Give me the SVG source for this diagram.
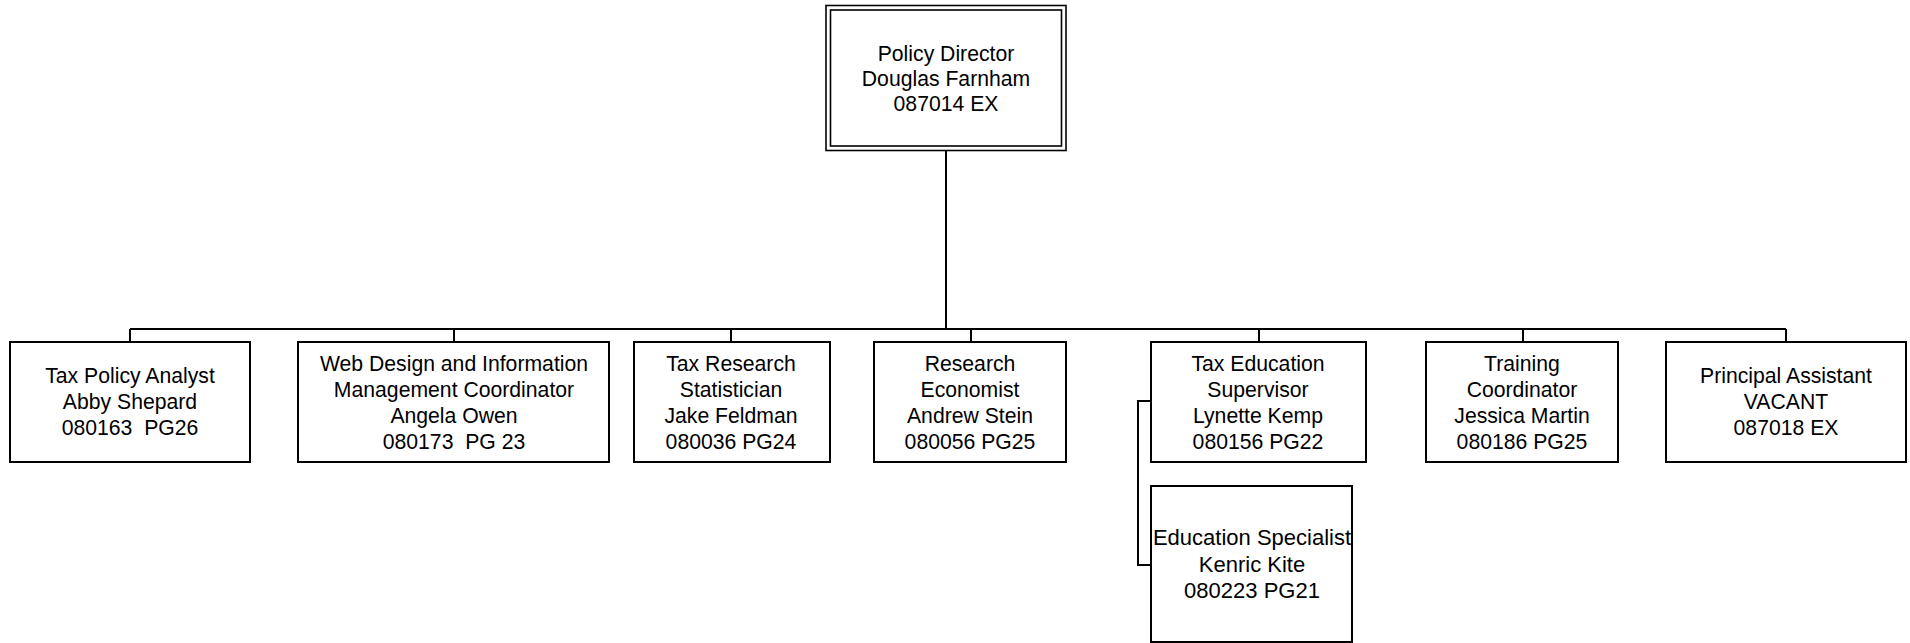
<svg xmlns="http://www.w3.org/2000/svg" width="1910" height="643" viewBox="0 0 1910 643">
<style>
.box{fill:#fff;stroke:#000;stroke-width:2}
.dbl{fill:none;stroke:#000;stroke-width:1.6}
.conn{fill:none;stroke:#000;stroke-width:2}
text{font-family:"Liberation Sans",Arial,sans-serif;font-size:21.2px;fill:#000;text-anchor:middle}
.big{font-size:22px}
</style>
<rect width="1910" height="643" fill="#fff"/>
<g id="connectors">
<path class="conn" d="M946 150V329M130 329H1786M130 329V342M454 329V342M731 329V342M971 329V342M1259 329V342M1523 329V342M1786 329V342"/>
<path class="conn" d="M1151 401H1138V565H1151"/>
</g>
<g id="n-director">
<rect class="dbl" x="826" y="5.5" width="240" height="145" fill="#fff"/>
<rect class="dbl" x="830.5" y="10" width="231" height="136"/>
<text x="946" y="61">Policy Director</text>
<text x="946" y="86">Douglas Farnham</text>
<text x="946" y="111">087014 EX</text>
</g>
<g id="n-taxpolicy">
<rect class="box" x="10" y="342" width="240" height="120"/>
<text x="130" y="383">Tax Policy Analyst</text>
<text x="130" y="409">Abby Shepard</text>
<text x="130" y="435" xml:space="preserve">080163  PG26</text>
</g>
<g id="n-webdesign">
<rect class="box" x="298" y="342" width="311" height="120"/>
<text x="454" y="371">Web Design and Information</text>
<text x="454" y="397">Management Coordinator</text>
<text x="454" y="423">Angela Owen</text>
<text x="454" y="449" xml:space="preserve">080173  PG 23</text>
</g>
<g id="n-taxresearch">
<rect class="box" x="634" y="342" width="196" height="120"/>
<text x="731" y="371">Tax Research</text>
<text x="731" y="397">Statistician</text>
<text x="731" y="423">Jake Feldman</text>
<text x="731" y="449">080036 PG24</text>
</g>
<g id="n-economist">
<rect class="box" x="874" y="342" width="192" height="120"/>
<text x="970" y="371">Research</text>
<text x="970" y="397">Economist</text>
<text x="970" y="423">Andrew Stein</text>
<text x="970" y="449">080056 PG25</text>
</g>
<g id="n-taxeducation">
<rect class="box" x="1151" y="342" width="215" height="120"/>
<text x="1258" y="371">Tax Education</text>
<text x="1258" y="397">Supervisor</text>
<text x="1258" y="423">Lynette Kemp</text>
<text x="1258" y="449">080156 PG22</text>
</g>
<g id="n-training">
<rect class="box" x="1426" y="342" width="192" height="120"/>
<text x="1522" y="371">Training</text>
<text x="1522" y="397">Coordinator</text>
<text x="1522" y="423">Jessica Martin</text>
<text x="1522" y="449">080186 PG25</text>
</g>
<g id="n-principal">
<rect class="box" x="1666" y="342" width="240" height="120"/>
<text x="1786" y="383">Principal Assistant</text>
<text x="1786" y="409">VACANT</text>
<text x="1786" y="435">087018 EX</text>
</g>
<g id="n-eduspecialist">
<rect class="box" x="1151" y="486" width="201" height="156"/>
<text class="big" x="1252" y="545">Education Specialist</text>
<text class="big" x="1252" y="572">Kenric Kite</text>
<text class="big" x="1252" y="598">080223 PG21</text>
</g>
</svg>
